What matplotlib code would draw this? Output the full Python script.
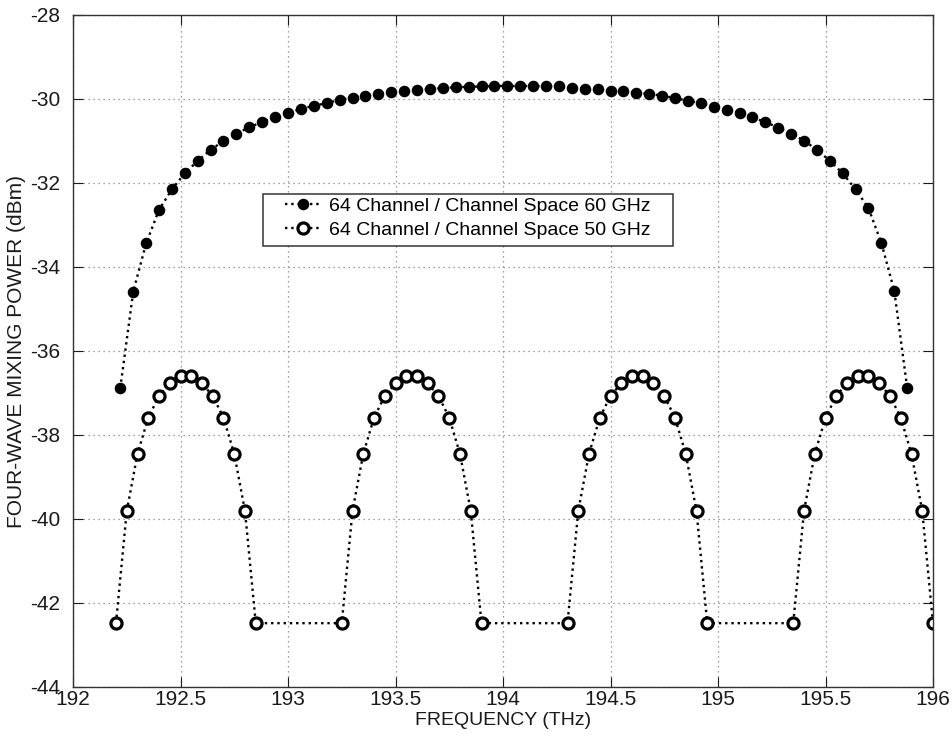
import matplotlib
matplotlib.use("Agg")
import matplotlib.pyplot as plt
from matplotlib.patches import Rectangle

plt.rcParams['font.family'] = ['Liberation Sans', 'DejaVu Sans']

# 60 GHz grid: 62 plotted channels
freq_60 = [192.22, 192.28, 192.34, 192.40, 192.46, 192.52, 192.58, 192.64,
           192.70, 192.76, 192.82, 192.88, 192.94, 193.00, 193.06, 193.12,
           193.18, 193.24, 193.30, 193.36, 193.42, 193.48, 193.54, 193.60,
           193.66, 193.72, 193.78, 193.84, 193.90, 193.96, 194.02, 194.08,
           194.14, 194.20, 194.26, 194.32, 194.38, 194.44, 194.50, 194.56,
           194.62, 194.68, 194.74, 194.80, 194.86, 194.92, 194.98, 195.04,
           195.10, 195.16, 195.22, 195.28, 195.34, 195.40, 195.46, 195.52,
           195.58, 195.64, 195.70, 195.76, 195.82, 195.88]
fwm_60 = [-36.88, -34.59, -33.44, -32.64, -32.15, -31.77, -31.47, -31.21,
          -31.00, -30.83, -30.67, -30.55, -30.44, -30.33, -30.24, -30.16,
          -30.10, -30.02, -29.97, -29.92, -29.87, -29.84, -29.81, -29.79,
          -29.76, -29.74, -29.72, -29.71, -29.70, -29.69, -29.69, -29.69,
          -29.69, -29.70, -29.70, -29.73, -29.75, -29.77, -29.80, -29.82,
          -29.85, -29.88, -29.92, -29.98, -30.04, -30.10, -30.18, -30.25,
          -30.33, -30.44, -30.55, -30.68, -30.83, -30.99, -31.21, -31.47,
          -31.77, -32.15, -32.60, -33.43, -34.57, -36.88]

# 50 GHz grid: four bands of 14 channels
freq_50 = [192.20, 192.25, 192.30, 192.35, 192.40, 192.45, 192.50,
           192.55, 192.60, 192.65, 192.70, 192.75, 192.80, 192.85,
           193.25, 193.30, 193.35, 193.40, 193.45, 193.50, 193.55,
           193.60, 193.65, 193.70, 193.75, 193.80, 193.85, 193.90,
           194.30, 194.35, 194.40, 194.45, 194.50, 194.55, 194.60,
           194.65, 194.70, 194.75, 194.80, 194.85, 194.90, 194.95,
           195.35, 195.40, 195.45, 195.50, 195.55, 195.60, 195.65,
           195.70, 195.75, 195.80, 195.85, 195.90, 195.95, 196.00]
fwm_50 = [-42.48, -39.81, -38.45, -37.59, -37.07, -36.77, -36.60,
          -36.60, -36.77, -37.07, -37.59, -38.45, -39.81, -42.48,
          -42.48, -39.81, -38.45, -37.59, -37.07, -36.77, -36.60,
          -36.60, -36.77, -37.07, -37.59, -38.45, -39.81, -42.48,
          -42.48, -39.81, -38.45, -37.59, -37.07, -36.77, -36.60,
          -36.60, -36.77, -37.07, -37.59, -38.45, -39.81, -42.48,
          -42.48, -39.81, -38.45, -37.59, -37.07, -36.77, -36.60,
          -36.60, -36.77, -37.07, -37.59, -38.45, -39.81, -42.48]

x_ticks = [192, 192.5, 193, 193.5, 194, 194.5, 195, 195.5, 196]
x_labels = ['192', '192.5', '193', '193.5', '194', '194.5', '195', '195.5', '196']
y_ticks = [-44, -42, -40, -38, -36, -34, -32, -30, -28]
y_labels = ['-44', '-42', '-40', '-38', '-36', '-34', '-32', '-30', '-28']

label_60 = '64 Channel / Channel Space 60 GHz'
label_50 = '64 Channel / Channel Space 50 GHz'

fig = plt.figure(figsize=(9.52, 7.39), dpi=100)
ax = fig.add_axes([73 / 952, 1 - 687 / 739, 860 / 952, 672 / 739])

ax.plot(freq_60, fwm_60, linestyle=':', color='black', linewidth=1.7,
        marker='o', markersize=7.3, markerfacecolor='black',
        markeredgecolor='black', label=label_60)
ax.plot(freq_50, fwm_50, linestyle=':', color='black', linewidth=1.7,
        marker='o', markersize=8.0, markerfacecolor='white',
        markeredgecolor='black', markeredgewidth=2.3, label=label_50)

ax.set_xlim(192, 196)
ax.set_ylim(-44, -28)
ax.set_xticks(x_ticks)
ax.set_xticklabels(x_labels)
ax.set_yticks(y_ticks)
ax.set_yticklabels(y_labels)
ax.tick_params(axis='both', direction='in', length=7, width=0.8, top=True,
               right=True, labelsize=15, colors='#1a1a1a')
ax.tick_params(axis='x', pad=2)
ax.tick_params(axis='y', pad=9)
ax.grid(True, linestyle=(0, (1, 3)), color='#808080', linewidth=0.9)
for s in ax.spines.values():
    s.set_linewidth(1.0)
    s.set_color('#333333')

ax.set_xlabel('FREQUENCY (THz)', fontsize=14, color='#1a1a1a', labelpad=2)
ax.set_ylabel('FOUR-WAVE MIXING POWER (dBm)', fontsize=15, color='#1a1a1a',
              labelpad=3)

# legend entries without their own frame; a wider box is drawn around them
leg = ax.legend(loc='upper left', bbox_to_anchor=(0.247, 0.729), fontsize=14,
                frameon=False, borderpad=0, labelspacing=0.35,
                handlelength=1.8, handletextpad=0.45, borderaxespad=0)
leg.set_zorder(6)
box = Rectangle((0.221, 0.656), 0.477, 0.078, transform=ax.transAxes,
                facecolor='white', edgecolor='#333333', linewidth=1.1,
                zorder=5)
ax.add_patch(box)

fig.savefig('out.png', dpi=100, facecolor='white')
